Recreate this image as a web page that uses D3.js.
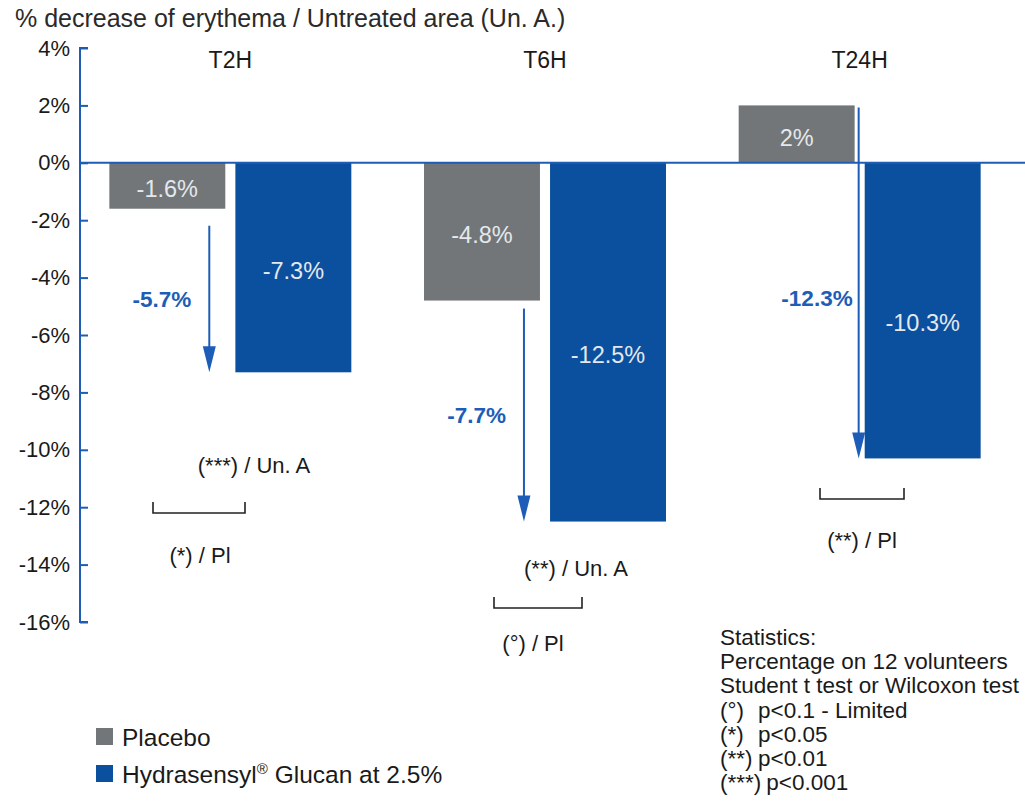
<!DOCTYPE html>
<html><head><meta charset="utf-8">
<script src="https://cdn.jsdelivr.net/npm/d3@7"></script>
<style>
html,body{margin:0;padding:0;background:#ffffff;}
text{font-family:"Liberation Sans",Arial,Helvetica,sans-serif;}
</style></head>
<body>
<svg id="chart" width="1025" height="801"></svg>
<script>
// ---- data ----
const categories = ["T2H", "T6H", "T24H"];
const series = ["Placebo", "Hydrasensyl® Glucan at 2.5%"];
const placeboValues = [-1.6, -4.8, 2];
const hydraValues = [-7.3, -12.5, -10.3];
const barLabels = [["-1.6%", "-7.3%"], ["-4.8%", "-12.5%"], ["2%", "-10.3%"]];
const diffLabels = ["-5.7%", "-7.7%", "-12.3%"];
const unaLabels = ["(***) / Un. A", "(**) / Un. A", ""];
const plLabels = ["(*) / Pl", "(°) / Pl", "(**) / Pl"];
const yTicks = [4, 2, 0, -2, -4, -6, -8, -10, -12, -14, -16];
const statsCodes = ["", "", "", "(°)", "(*)", "(**)", "(***)"];
const statsTexts = ["Statistics:", "Percentage on 12 volunteers", "Student t test or Wilcoxon test",
  "p<0.1 - Limited", "p<0.05", "p<0.01", "p<0.001"];
const title = "% decrease of erythema / Untreated area (Un. A.)";

// ---- styles / layout ----
const grey = "#727678", blue = "#0b4f9f", axisBlue = "#1f5cb3", arrowBlue = "#1d5db8";
const ink = "#1a1a1a";
const svg = d3.select("#chart");

const y = d3.scaleLinear().domain([-16, 4]).range([622, 48]);
const x0 = d3.scaleBand().domain(categories).range([73, 1017]).paddingInner(0.231).paddingOuter(0.1155);
const x1 = d3.scaleBand().domain(series).range([0, x0.bandwidth()]).paddingInner(0.08).paddingOuter(0);
const color = d3.scaleOrdinal().domain(series).range([grey, blue]);

// title
svg.append("text").attr("x", 15).attr("y", 27).attr("font-size", 25).attr("fill", "#2a2a2a")
  .text(title);

// bars
const rows = categories.map((c, i) => ({c, i, vals: [placeboValues[i], hydraValues[i]]}));
const g = svg.append("g");
rows.forEach(r => {
  r.vals.forEach((v, j) => {
    const s = series[j];
    const bx = x0(r.c) + x1(s);
    g.append("rect").attr("x", bx).attr("width", x1.bandwidth())
      .attr("y", y(Math.max(0, v))).attr("height", Math.abs(y(v) - y(0)))
      .attr("fill", color(s));
    g.append("text").attr("x", bx + x1.bandwidth() / 2)
      .attr("y", (y(v) + y(0)) / 2 + (v < -10 ? 12 : 3)).attr("dy", "0.36em")
      .attr("text-anchor", "middle").attr("font-size", 23.5).attr("fill", "#e4e8ec")
      .text(barLabels[r.i][j]);
  });
  // category label
  svg.append("text").attr("x", x0(r.c) + x0.bandwidth() / 2).attr("y", 68)
    .attr("text-anchor", "middle").attr("font-size", 23).attr("fill", ink).text(r.c);
});

// axis
const yAxis = d3.axisRight(y).tickValues(yTicks).tickSize(8).tickFormat(d => d + "%");
const ax = svg.append("g").attr("transform", "translate(80,0)").call(yAxis);
ax.select(".domain").attr("stroke", axisBlue).attr("stroke-width", 2).attr("d", `M8,${y(4)}H0V${y(-16)}H8`);
ax.selectAll(".tick line").attr("stroke", axisBlue).attr("stroke-width", 2);
ax.selectAll(".tick text").attr("x", -10).attr("text-anchor", "end").attr("font-size", 22)
  .attr("fill", ink).attr("font-family", "Liberation Sans, Arial, sans-serif");

// zero line
svg.append("line").attr("x1", 80).attr("x2", 1025).attr("y1", y(0)).attr("y2", y(0))
  .attr("stroke", axisBlue).attr("stroke-width", 2);

// arrows
rows.forEach(r => {
  const p = placeboValues[r.i], h = hydraValues[r.i];
  const pRight = x0(r.c) + x1(series[0]) + x1.bandwidth();
  const hLeft = x0(r.c) + x1(series[1]);
  const ax0 = p > 0 ? (pRight + hLeft) / 2 - 1 : pRight - 16;
  const yStart = p > 0 ? y(p) + 2 : y(p) + (r.i === 0 ? 17 : 8);
  const yEnd = y(h);
  svg.append("line").attr("x1", ax0).attr("x2", ax0).attr("y1", yStart).attr("y2", yEnd - 20)
    .attr("stroke", arrowBlue).attr("stroke-width", 2);
  svg.append("path").attr("d", `M${ax0 - 6.5},${yEnd - 26}L${ax0 + 6.5},${yEnd - 26}L${ax0},${yEnd}Z`)
    .attr("fill", arrowBlue);
  svg.append("text").attr("x", ax0 - (p > 0 ? 6 : 18)).attr("y", (yStart + yEnd) / 2 + (p > 0 ? 15 : 0))
    .attr("dy", "0.36em").attr("text-anchor", "end").attr("font-size", 22.5).attr("font-weight", "bold")
    .attr("fill", arrowBlue).text(diffLabels[r.i]);
});

// significance annotations
const unaPos = [[254, 465], [576, 568]];
const bracketPos = [[153, 245, 513], [494, 582, 608], [820, 904, 499]];
const plPos = [[200, 555], [533, 643], [862, 540]];
rows.forEach(r => {
  if (unaLabels[r.i]) {
    svg.append("text").attr("x", unaPos[r.i][0]).attr("y", unaPos[r.i][1]).attr("dy", "0.36em")
      .attr("text-anchor", "middle").attr("font-size", 22).attr("fill", ink).text(unaLabels[r.i]);
  }
  const b = bracketPos[r.i];
  svg.append("path").attr("d", `M${b[0]},${b[2] - 11}V${b[2]}H${b[1]}V${b[2] - 11}`)
    .attr("fill", "none").attr("stroke", "#222").attr("stroke-width", 1.6);
  svg.append("text").attr("x", plPos[r.i][0]).attr("y", plPos[r.i][1]).attr("dy", "0.36em")
    .attr("text-anchor", "middle").attr("font-size", 22).attr("fill", ink).text(plLabels[r.i]);
});

// legend
series.forEach((s, i) => {
  const ly = 728 + i * 37;
  svg.append("rect").attr("x", 96).attr("y", ly).attr("width", 17).attr("height", 17).attr("fill", color(s));
  const t = svg.append("text").attr("x", 122).attr("y", ly + 18).attr("font-size", 24.5).attr("fill", ink);
  if (s.includes("®")) {
    const parts = s.split("®");
    t.append("tspan").text(parts[0]);
    t.append("tspan").attr("font-size", 15).attr("dy", -9).text("®");
    t.append("tspan").attr("dy", 9).text(parts[1]);
  } else t.text(s);
});

// stats box
statsTexts.forEach((s, i) => {
  const sy = 645 + i * 24.2;
  if (statsCodes[i]) {
    const c = svg.append("text").attr("x", 720).attr("y", sy).attr("font-size", 22.5).attr("fill", ink).text(statsCodes[i]);
    const w = c.node().getComputedTextLength();
    svg.append("text").attr("x", Math.max(758, 720 + w + 5)).attr("y", sy).attr("font-size", 22.5).attr("fill", ink).text(s);
  } else {
    svg.append("text").attr("x", 720).attr("y", sy).attr("font-size", 22.5).attr("fill", ink).text(s);
  }
});
</script>
</body></html>
